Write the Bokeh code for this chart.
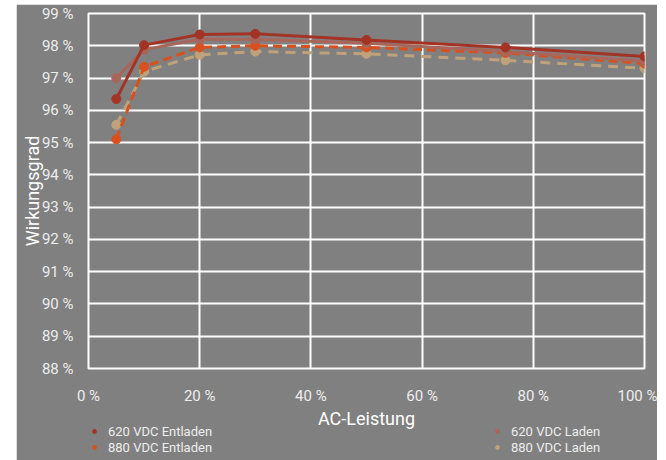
from bokeh.plotting import figure
from bokeh.models import Legend, LegendItem, FixedTicker, Range1d
from bokeh.layouts import column
from bokeh.embed import file_html
from bokeh.resources import INLINE

x_load = [5, 10, 20, 30, 50, 75, 100]
eff_620_entladen = [96.35, 98.02, 98.35, 98.37, 98.18, 97.95, 97.67]
eff_620_laden = [97.0, 97.88, 98.2, 98.2, 98.08, 97.82, 97.52]
eff_880_entladen = [95.1, 97.35, 97.95, 98.0, 97.95, 97.78, 97.45]
eff_880_laden = [95.55, 97.2, 97.72, 97.82, 97.75, 97.55, 97.3]

series_names = ["620 VDC Entladen", "880 VDC Entladen", "620 VDC Laden", "880 VDC Laden"]
colors = ["#A33325", "#D9501F", "#A8665A", "#BFA27A"]

x_ticks = [0, 20, 40, 60, 80, 100]
y_ticks = [88, 89, 90, 91, 92, 93, 94, 95, 96, 97, 98, 99]

FONT = "Roboto"
TXT = "#EDEDED"
BG = "#808080"

p = figure(frame_width=556, frame_height=355, output_backend="svg", toolbar_location=None,
           x_range=Range1d(0, 100), y_range=Range1d(88, 99),
           min_border_left=72, min_border_right=13, min_border_top=9, min_border_bottom=92)
p.margin = (4, 0, 0, 16)
p.background_fill_color = BG
p.border_fill_color = BG
p.outline_line_color = "white"
p.outline_line_width = 2

p.xaxis.ticker = FixedTicker(ticks=x_ticks)
p.yaxis.ticker = FixedTicker(ticks=y_ticks)
p.xaxis.major_label_overrides = {t: f"{t} %" for t in x_ticks}
p.yaxis.major_label_overrides = {t: f"{t} %" for t in y_ticks}
for ax in (p.xaxis, p.yaxis):
    ax.axis_line_color = None
    ax.major_tick_line_color = None
    ax.minor_tick_line_color = None
    ax.major_label_text_color = TXT
    ax.major_label_text_font = FONT
    ax.major_label_text_font_size = "15px"
    ax.axis_label_text_color = "white"
    ax.axis_label_text_font = FONT
    ax.axis_label_text_font_style = "normal"
    ax.axis_label_text_font_size = "18px"
p.xaxis.major_label_standoff = 12
p.yaxis.major_label_standoff = 9
p.xaxis.axis_label = "AC-Leistung"
p.yaxis.axis_label = "Wirkungsgrad"
p.xaxis.axis_label_standoff = 0
p.yaxis.axis_label_standoff = -4

p.xgrid.grid_line_color = "white"
p.ygrid.grid_line_color = "white"
p.xgrid.grid_line_width = 2
p.ygrid.grid_line_width = 2
p.xgrid.grid_line_alpha = 1
p.ygrid.grid_line_alpha = 1

data = {
    "620 VDC Entladen": eff_620_entladen,
    "880 VDC Entladen": eff_880_entladen,
    "620 VDC Laden": eff_620_laden,
    "880 VDC Laden": eff_880_laden,
}
dashes = {"620 VDC Entladen": "solid", "880 VDC Entladen": "9 5",
          "620 VDC Laden": "solid", "880 VDC Laden": "10 7"}
order = ["880 VDC Laden", "880 VDC Entladen", "620 VDC Laden", "620 VDC Entladen"]
for name in order:
    c = colors[series_names.index(name)]
    p.line(x_load, data[name], line_color=c, line_width=3, line_dash=dashes[name])
    p.scatter(x_load, data[name], size=9, fill_color=c, line_color=c)

# legend lives in a transparent strip figure laid over the bottom of the chart
lf = figure(width=641, height=40, output_backend="svg", toolbar_location=None,
            x_range=Range1d(0, 1), y_range=Range1d(0, 1),
            min_border_left=72, min_border_right=13, min_border_top=0, min_border_bottom=0)
lf.margin = (-39, 0, 0, 16)
lf.axis.visible = False
lf.grid.visible = False
lf.outline_line_color = None
lf.background_fill_alpha = 0
lf.border_fill_alpha = 0

legend_renderers = {}
for name, c in zip(series_names, colors):
    # the series' points fall outside this strip's ranges, so only the legend swatch shows
    legend_renderers[name] = lf.scatter(x_load, data[name], size=12, fill_color=c, line_color=None)

lg = Legend(items=[LegendItem(label=n, renderers=[legend_renderers[n]]) for n in series_names],
            location=(0, 6), orientation="vertical", nrows=2)
lg.background_fill_alpha = 0
lg.border_line_color = None
lg.padding = 0
lg.margin = 0
lg.spacing = 0
lg.glyph_width = 12
lg.glyph_height = 16
lg.label_height = 16
lg.label_width = 383
lg.label_standoff = 8
lg.label_text_font = FONT
lg.label_text_font_size = "13px"
lg.label_text_color = TXT
lf.add_layout(lg, "center")

layout = column(p, lf, spacing=0)
open("out.html", "w").write(file_html(layout, INLINE))
